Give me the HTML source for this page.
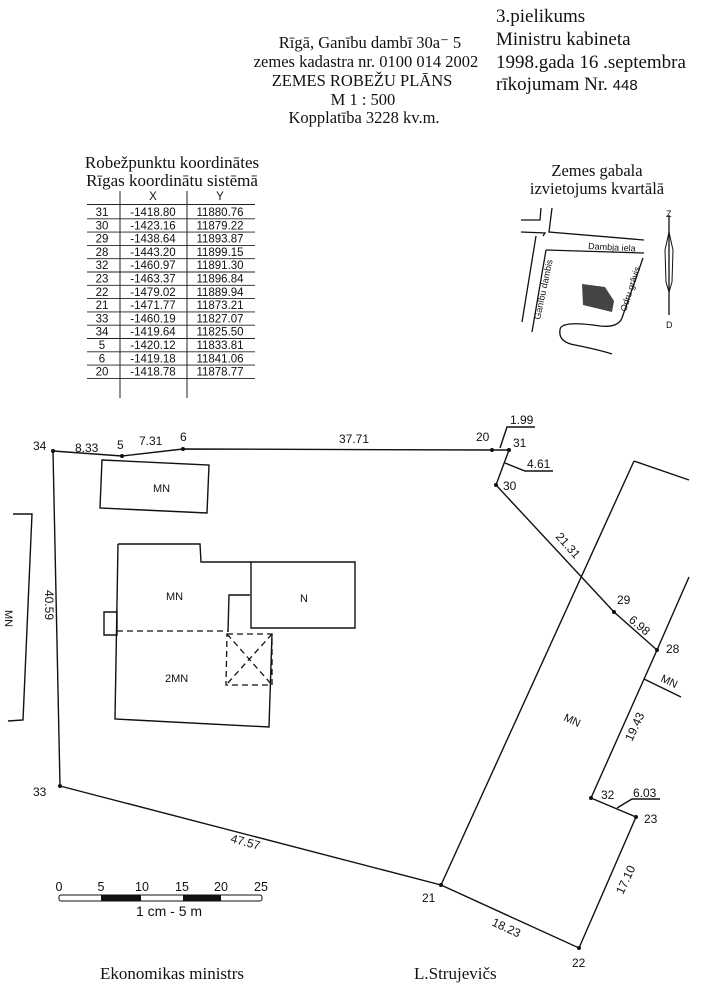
<!DOCTYPE html>
<html><head><meta charset="utf-8"><style>
html,body{margin:0;padding:0;background:#fff;}
svg{display:block;}
.s{font-family:"Liberation Serif",serif;fill:#111;}
.a{font-family:"Liberation Sans",sans-serif;fill:#111;}
</style></head><body>
<svg width="709" height="991" viewBox="0 0 709 991" xmlns="http://www.w3.org/2000/svg">
<rect width="709" height="991" fill="#fff"/>
<g class="s" font-size="16.5" text-anchor="middle">
<text x="370" y="48">Rīgā, Ganību dambī  30a⁻ 5</text>
<text x="366" y="67">zemes kadastra nr. 0100 014 2002</text>
<text x="362" y="86">ZEMES ROBEŽU PLĀNS</text>
<text x="363" y="105">M 1 : 500</text>
<text x="364" y="123">Kopplatība 3228 kv.m.</text>
</g>
<g class="s" font-size="19">
<text x="496" y="22">3.pielikums</text>
<text x="496" y="45">Ministru kabineta</text>
<text x="496" y="68">1998.gada 16  .septembra</text>
<text x="496" y="90">rīkojumam Nr.  <tspan font-family="Liberation Sans" font-size="15">448</tspan></text>
</g>
<g class="s" font-size="17" text-anchor="middle">
<text x="172" y="168">Robežpunktu koordinātes</text>
<text x="172" y="186">Rīgas  koordinātu sistēmā</text>
</g>
<g stroke="#222" stroke-width="1">
<line x1="120" y1="191" x2="120" y2="398"/>
<line x1="187" y1="191" x2="187" y2="398"/>
</g>
<g class="a" font-size="11.5" text-anchor="middle" id="tbl">
<text x="153" y="200">X</text><text x="220" y="200">Y</text>
</g>
<g stroke="#222" stroke-width="0.9" id="tlines"></g>
<g class="s" font-size="16.5" text-anchor="middle">
<text x="597" y="176">Zemes gabala</text>
<text x="597" y="194">izvietojums kvartālā</text>
</g>
<g stroke="#111" stroke-width="1.3" fill="none">
<path d="M521 220 L540 220 L541 208"/>
<path d="M552 208 L549 232 L644 240"/>
<path d="M521 232 L545 233 L543 236"/>
<path d="M546 250 L644 253"/>
<path d="M546 250 L532 332"/>
<path d="M536 236 L522 322"/>
<path d="M643 258 L622 318 Q618 328 600 326 Q560 320 560 330 Q558 342 575 345 Q600 350 612 354"/>
<line x1="669" y1="215" x2="669" y2="315"/>
<path d="M665 250 L669 232 L673 250 L672 282 L669 292 L666 282 Z" stroke-width="1"/>
</g>
<path d="M582 284 L605 287 L614 301 L612 312 L583 305 Z" fill="#444"/>
<g class="a" font-size="9" fill="#111">
<text x="666" y="217">Z</text><text x="666" y="328">D</text>
<text x="588" y="249" transform="rotate(3 588 249)">Dambja iela</text>
<text x="540" y="320" transform="rotate(-78 540 320)">Ganību dambis</text>
<text x="626" y="312" transform="rotate(-72 626 312)">Odru grāvis</text>
</g>
<g stroke="#111" stroke-width="1.4" fill="none">
<path d="M53 451 L122 456 L183 449 L492 450 L509 450 L496 485 L614 612 L657 650 L591 798 L636 817 L579 948 L441 885 L60 786 Z"/>
<path d="M13 514 L32 514 L23 720 L8 721"/>
<path d="M102 460 L209 465 L207 513 L100 508 Z"/>
<path d="M118 544 L200 544 L201 562 L251 562"/>
<path d="M118 544 L115 719 L269 727 L272 634"/>
<path d="M251 562 L355 562 L355 628 L251 628 Z"/>
<path d="M104 612 L117 612 L117 635 L104 635 Z"/>
<path d="M250 595 L229 595 L228 632"/>
<path d="M634 461 L689 480"/>
<path d="M634 461 L441 885"/>
<path d="M689 577 L657 650"/>
<path d="M644 679 L681 697"/>
<path d="M500 448 L507 427 L535 427"/>
<path d="M505 463 L525 471 L553 471"/>
<path d="M617 808 L632 799 L660 799"/>
</g>
<g stroke="#111" stroke-width="1.3" fill="none" stroke-dasharray="6,4">
<path d="M117 631 L228 631"/>
<path d="M227 634 L272 634 L272 685 L226 685 Z"/>
<path d="M227 634 L272 685 M272 634 L226 685"/>
</g>
<g fill="#111">
<circle cx="53" cy="451" r="2"/><circle cx="122" cy="456" r="2"/><circle cx="183" cy="449" r="2"/>
<circle cx="492" cy="450" r="2"/><circle cx="509" cy="450" r="2"/><circle cx="496" cy="485" r="2"/>
<circle cx="614" cy="612" r="2"/><circle cx="657" cy="650" r="2"/><circle cx="591" cy="798" r="2"/>
<circle cx="636" cy="817" r="2"/><circle cx="579" cy="948" r="2"/><circle cx="441" cy="885" r="2"/>
<circle cx="60" cy="786" r="2"/>
</g>
<g class="a" font-size="12">
<text x="33" y="450">34</text><text x="75" y="452">8.33</text><text x="117" y="449">5</text>
<text x="139" y="445">7.31</text><text x="180" y="441">6</text><text x="339" y="443">37.71</text>
<text x="476" y="441">20</text><text x="513" y="447">31</text><text x="510" y="424">1.99</text>
<text x="527" y="468">4.61</text><text x="503" y="490">30</text>
<text x="617" y="604">29</text><text x="666" y="653">28</text>
<text x="601" y="799">32</text><text x="633" y="797">6.03</text><text x="644" y="823">23</text>
<text x="422" y="902">21</text><text x="572" y="967">22</text><text x="33" y="796">33</text>
<text x="153" y="492" font-size="11">MN</text><text x="166" y="600" font-size="11">MN</text>
<text x="300" y="602" font-size="11">N</text><text x="165" y="682" font-size="11">2MN</text>
<text x="45" y="590" transform="rotate(90 45 590)">40.59</text>
<text x="5" y="610" font-size="11" transform="rotate(90 5 610)">MN</text>
<text x="555" y="537" transform="rotate(48 555 537)">21.31</text>
<text x="628" y="621" transform="rotate(40 628 621)">6.98</text>
<text x="632" y="742" transform="rotate(-65 632 742)">19.43</text>
<text x="623" y="895" transform="rotate(-65 623 895)">17.10</text>
<text x="491" y="925" transform="rotate(25 491 925)">18.23</text>
<text x="230" y="842" transform="rotate(15 230 842)">47.57</text>
<text x="563" y="720" font-size="11" transform="rotate(25 563 720)">MN</text>
<text x="660" y="681" font-size="11" transform="rotate(25 660 681)">MN</text>
</g>
<g class="a" font-size="12.5" text-anchor="middle">
<text x="59" y="891">0</text><text x="101" y="891">5</text><text x="142" y="891">10</text>
<text x="182" y="891">15</text><text x="221" y="891">20</text><text x="261" y="891">25</text>
<text x="169" y="916" font-size="14">1 cm - 5 m</text>
</g>
<rect x="59" y="895" width="203" height="6" rx="2" fill="#fff" stroke="#111" stroke-width="1"/>
<rect x="101" y="895" width="40" height="6" fill="#111"/>
<rect x="183" y="895" width="38" height="6" fill="#111"/>
<g class="s" font-size="17">
<text x="100" y="979">Ekonomikas ministrs</text>
<text x="414" y="979">L.Strujevičs</text>
</g>
</svg>
<script>
var rows=[["31","-1418.80","11880.76"],["30","-1423.16","11879.22"],["29","-1438.64","11893.87"],["28","-1443.20","11899.15"],["32","-1460.97","11891.30"],["23","-1463.37","11896.84"],["22","-1479.02","11889.94"],["21","-1471.77","11873.21"],["33","-1460.19","11827.07"],["34","-1419.64","11825.50"],["5","-1420.12","11833.81"],["6","-1419.18","11841.06"],["20","-1418.78","11878.77"]];
var ns="http://www.w3.org/2000/svg",g=document.getElementById("tbl"),l=document.getElementById("tlines");
function ln(y){var e=document.createElementNS(ns,"line");e.setAttribute("x1",87);e.setAttribute("x2",255);e.setAttribute("y1",y);e.setAttribute("y2",y);l.appendChild(e);}
ln(204.5);
rows.forEach(function(r,i){var y=216+i*13.3;[[102,r[0]],[153,r[1]],[220,r[2]]].forEach(function(c){var t=document.createElementNS(ns,"text");t.setAttribute("x",c[0]);t.setAttribute("y",y);t.textContent=c[1];g.appendChild(t);});ln(y+2.8);});
</script>
</body></html>
